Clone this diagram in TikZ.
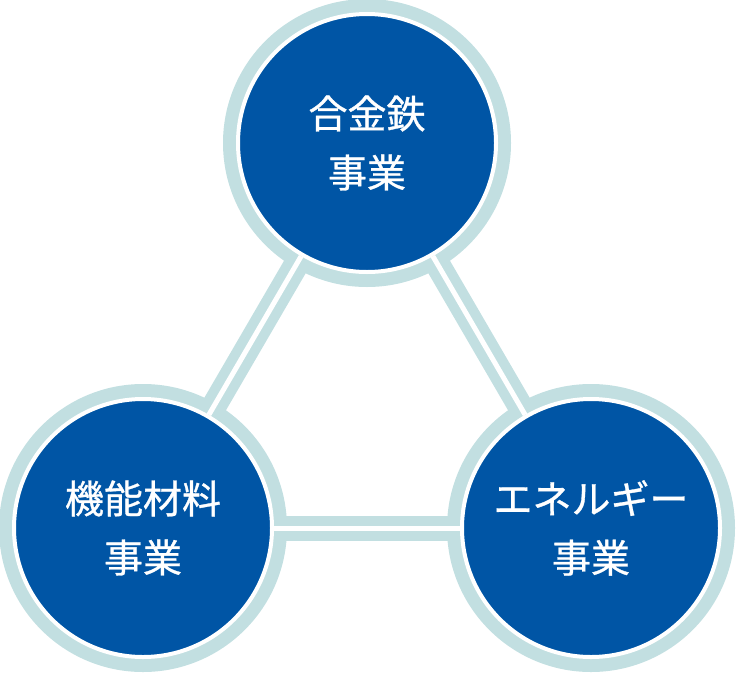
\documentclass[tikz,border=0pt]{standalone}
\usepackage{fontspec}
\setmainfont{Noto Sans CJK JP}
\newfontfamily\unitfont[FakeBold=0.8]{Noto Sans CJK JP}
\usetikzlibrary{backgrounds}
\definecolor{unitblue}{RGB}{0,85,165}
\definecolor{ringteal}{RGB}{194,223,225}

\begin{document}
\begin{tikzpicture}[x=1pt,y=-1pt,
  unit/.style={circle,fill=unitblue,draw=white,line width=4pt,minimum size=258pt,
    inner sep=0pt,text=white,align=center,font=\unitfont\fontsize{39}{59}\selectfont},
  ring/.style={fill=ringteal},
  band/.style={draw=ringteal,line width=25pt},
  gap/.style={draw=white,line width=5pt}]
  \useasboundingbox (0,0) rectangle (736,672);
  % 事業ユニット
  \node[unit] (alloy) at (367,143) {合金鉄\\事業};
  \node[unit] (func) at (143,528) {機能材料\\事業};
  \node[unit] (energy) at (591,528) {エネルギー\\事業};
  % 外周リングと二重線
  \begin{scope}[on background layer]
    \foreach \u in {alloy,func,energy}
      \fill[ring] (\u.center) circle (144pt);
    \foreach \a/\b in {alloy/func,func/energy,energy/alloy}
      \draw[band] (\a) -- (\b);
    \foreach \a/\b in {alloy/func,func/energy,energy/alloy}
      \draw[gap] (\a) -- (\b);
  \end{scope}
\end{tikzpicture}
\end{document}
